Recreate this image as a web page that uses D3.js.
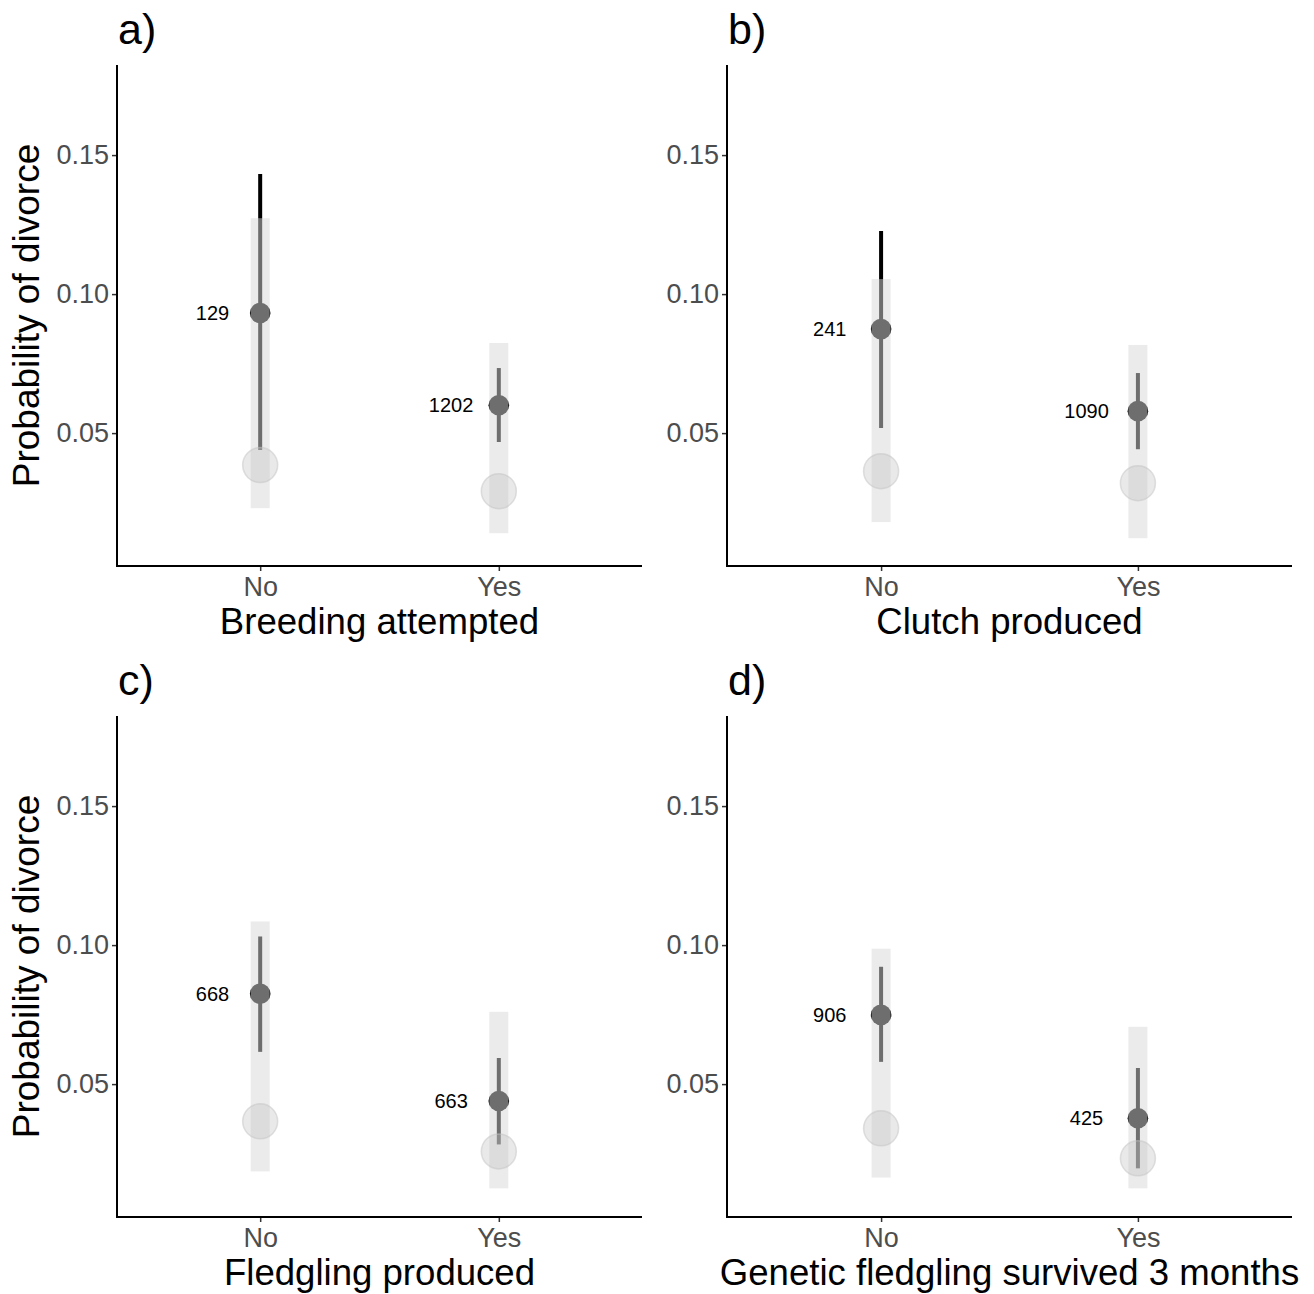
<!DOCTYPE html>
<html>
<head>
<meta charset="utf-8">
<script src="https://cdn.jsdelivr.net/npm/d3@7"></script>
<style>
  body { margin: 0; background: #fff; }
  svg { font-family: "Liberation Sans", Arial, sans-serif; }
</style>
</head>
<body>
<svg id="chart" width="1314" height="1294"></svg>
<script>
// ---- Data ----
const categories = ["No", "Yes"];
const panelLabels = ["a)", "b)", "c)", "d)"];
const xTitles = ["Breeding attempted", "Clutch produced", "Fledgling produced", "Genetic fledgling survived 3 months"];
const yTicks = [0.05, 0.10, 0.15];
const yTitle = "Probability of divorce";

// observed estimates [No, Yes]
const estimate = [[0.0932, 0.0600], [0.0874, 0.0579], [0.0825, 0.0439], [0.0749, 0.0377]];
const ciLower  = [[0.0439, 0.0468], [0.0518, 0.0442], [0.0616, 0.0283], [0.0580, 0.0197]];
const ciUpper  = [[0.1432, 0.0734], [0.1227, 0.0716], [0.1031, 0.0594], [0.0922, 0.0558]];
// null (permutation) distribution: mean and range [No, Yes]
const nullMean  = [[0.0385, 0.0291], [0.0363, 0.0320], [0.0366, 0.0258], [0.0341, 0.0233]];
const nullLower = [[0.0230, 0.0140], [0.0180, 0.0122], [0.0186, 0.0125], [0.0164, 0.0125]];
const nullUpper = [[0.1273, 0.0824], [0.1054, 0.0817], [0.1085, 0.0760], [0.0987, 0.0706]];
// sample sizes [No, Yes]
const sampleN = [["129", "1202"], ["241", "1090"], ["668", "663"], ["906", "425"]];

// ---- Layout ----
const panels = [
  {left: 117, right: 642, top: 65, bottom: 566, yTitle: true},
  {left: 727, right: 1292, top: 65, bottom: 566, yTitle: false},
  {left: 117, right: 642, top: 716, bottom: 1217, yTitle: true},
  {left: 727, right: 1292, top: 716, bottom: 1217, yTitle: false}
];
const yDomain = [0.0022, 0.1824];

const svg = d3.select("#chart");

panels.forEach((p, i) => {
  const g = svg.append("g");
  const x = d3.scaleLinear().domain([0.4, 2.6]).range([p.left, p.right]);
  const y = d3.scaleLinear().domain(yDomain).range([p.bottom, p.top]);

  const rows = categories.map((c, j) => ({
    cat: c, pos: j + 1,
    est: estimate[i][j], lo: ciLower[i][j], hi: ciUpper[i][j],
    nm: nullMean[i][j], nlo: nullLower[i][j], nhi: nullUpper[i][j],
    n: sampleN[i][j]
  }));

  // error bars
  g.selectAll("line.ci").data(rows).enter().append("line")
    .attr("x1", d => x(d.pos)).attr("x2", d => x(d.pos))
    .attr("y1", d => y(d.lo)).attr("y2", d => y(d.hi))
    .attr("stroke", "#000").attr("stroke-width", 4);
  // points
  g.selectAll("circle.pt").data(rows).enter().append("circle")
    .attr("cx", d => x(d.pos)).attr("cy", d => y(d.est)).attr("r", 10.3)
    .attr("fill", "#000");
  // null range rectangles
  g.selectAll("rect.null").data(rows).enter().append("rect")
    .attr("x", d => x(d.pos) - 9.5).attr("width", 19)
    .attr("y", d => y(d.nhi)).attr("height", d => y(d.nlo) - y(d.nhi))
    .attr("fill", "rgb(216,216,216)").attr("fill-opacity", 0.51);
  // null mean circles
  g.selectAll("circle.nm").data(rows).enter().append("circle")
    .attr("cx", d => x(d.pos)).attr("cy", d => y(d.nm)).attr("r", 17.5)
    .attr("fill", "rgb(193,193,193)").attr("fill-opacity", 0.36)
    .attr("stroke", "rgb(195,195,195)").attr("stroke-opacity", 0.5).attr("stroke-width", 1.5);
  // sample size labels
  g.selectAll("text.n").data(rows).enter().append("text")
    .attr("x", d => x(d.pos - 0.2)).attr("y", d => y(d.est))
    .attr("dy", "0.35em").attr("text-anchor", "middle")
    .attr("font-size", 20).attr("fill", "#000")
    .text(d => d.n);

  // axes
  const yAxis = d3.axisLeft(y).tickValues(yTicks).tickFormat(d3.format(".2f")).tickSize(5).tickPadding(3);
  const ya = g.append("g").attr("transform", `translate(${p.left},0)`).call(yAxis);
  const xAxis = d3.axisBottom(x).tickValues([1, 2]).tickFormat((d) => categories[d - 1]).tickSize(5).tickPadding(6);
  const xa = g.append("g").attr("transform", `translate(0,${p.bottom})`).call(xAxis);
  [ya, xa].forEach(a => {
    a.attr("font-size", 27).attr("font-family", "'Liberation Sans', Arial, sans-serif");
    a.select(".domain").remove();
    a.selectAll(".tick line").attr("stroke", "#333").attr("stroke-width", 1.5);
    a.selectAll(".tick text").attr("font-size", 27).attr("fill", "#4d4d4d");
  });
  // axis lines
  g.append("path")
    .attr("d", `M${p.left},${p.top}V${p.bottom}H${p.right}`)
    .attr("fill", "none").attr("stroke", "#000").attr("stroke-width", 2);

  // x title
  g.append("text").attr("x", (p.left + p.right) / 2).attr("y", p.bottom + 68)
    .attr("text-anchor", "middle").attr("font-size", 36.6).attr("fill", "#000")
    .text(xTitles[i]);
  // y title
  if (p.yTitle) {
    g.append("text")
      .attr("transform", `translate(39,${(p.top + p.bottom) / 2}) rotate(-90)`)
      .attr("text-anchor", "middle").attr("font-size", 37).attr("fill", "#000")
      .text(yTitle);
  }
  // panel tag
  g.append("text").attr("x", p.left + 1).attr("y", p.top - 21)
    .attr("font-size", 43).attr("fill", "#000").text(panelLabels[i]);
});
</script>
</body>
</html>
